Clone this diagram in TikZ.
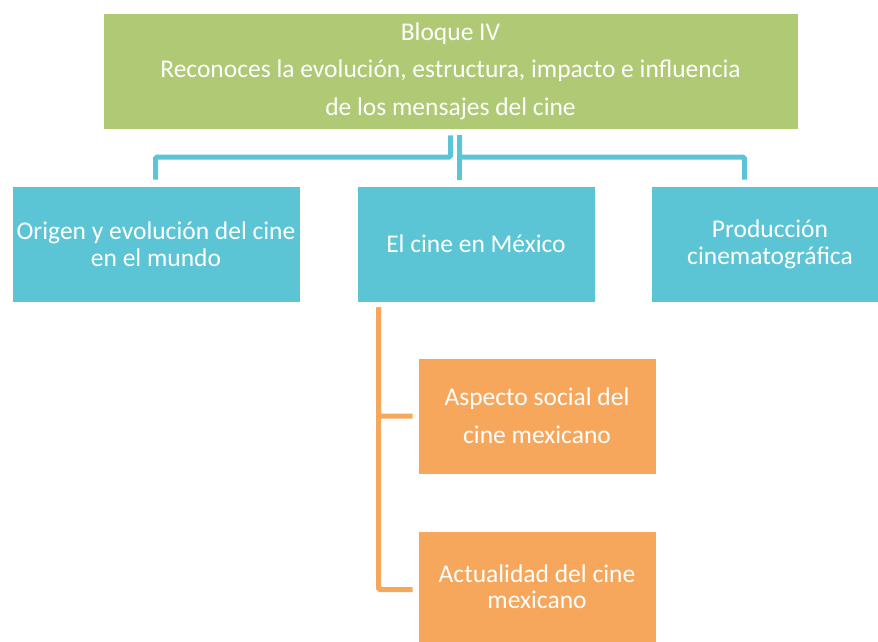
\documentclass[tikz,border=0pt]{standalone}
\usepackage{fontspec}
\setmainfont{Carlito}
\usetikzlibrary{calc}
\definecolor{grn}{HTML}{B0C974}
\definecolor{blu}{HTML}{5BC5D5}
\definecolor{org}{HTML}{F6A75C}
\begin{document}
\begin{tikzpicture}[x=1pt,y=-1pt,
  box/.style={draw=white, line width=0.6pt, inner sep=0pt, text=white, align=center},
  topbox/.style={box, fill=grn, minimum width=695pt, minimum height=116pt,
    font=\fontsize{25.5}{37.5}\selectfont},
  midbox/.style={box, fill=blu, minimum height=116pt,
    font=\fontsize{25.5}{27}\selectfont},
  subbox/.style={box, fill=org, minimum width=238pt, font=\fontsize{25.5}{25.5}\selectfont},
  bconn/.style={draw=blu, line width=5pt, rounded corners=1.5pt},
  oconn/.style={draw=org, line width=5pt, rounded corners=1.5pt}]
\useasboundingbox (0,0) rectangle (878,642);
\clip (0,0) rectangle (878,642);
\node[topbox] (top) at (450.5,71) {Bloque IV\\Reconoces la evolución, estructura, impacto e influencia\\de los mensajes del cine};
\node[midbox, minimum width=288pt] (L) at (156,244) {Origen y evolución del cine\\en el mundo};
\node[midbox, minimum width=238pt] (M) at (476,244) {El cine en México};
\node[midbox, minimum width=238pt] (R) at (770,244) {Producción\\cinematográfica};
\node[subbox, minimum height=116pt, font=\fontsize{25.5}{38}\selectfont] (O1) at (537,416) {Aspecto social del\\cine mexicano};
\node[subbox, minimum height=111pt] (O2) at (537,586.5) {Actualidad del cine\\mexicano};
\draw[bconn] ($(top.south)+(0,6)$) |- ($(L.north)+(-0.5,-28.5)$) -- ($(L.north)+(-0.5,-6)$);
\draw[bconn] ($(top.south)+(9,6)$) |- ($(R.north)+(-25.5,-28.5)$) -- ($(R.north)+(-25.5,-6)$);
\draw[bconn] ($(top.south)+(9,6)$) -- ($(M.north)+(-16.5,-6)$);
\draw[oconn] ($(M.south)+(-97.5,5)$) |- ($(O1.west)+(-5,0)$);
\draw[oconn] ($(M.south)+(-97.5,5)$) |- ($(O2.west)+(-5,3)$);
\end{tikzpicture}
\end{document}
